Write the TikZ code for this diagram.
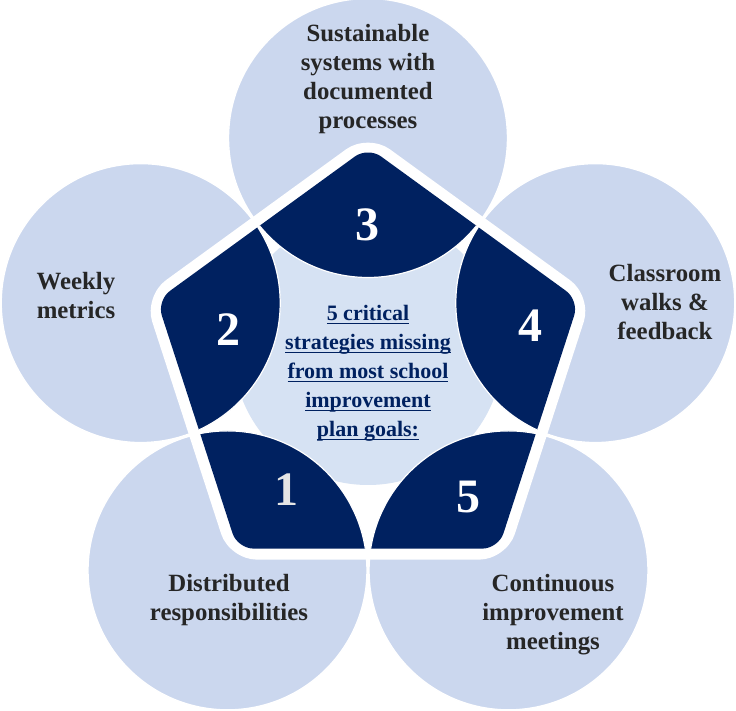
\documentclass[tikz,border=0pt]{standalone}
\usepackage{fontspec}
\setmainfont{Liberation Serif}
\definecolor{ringblue}{RGB}{203,215,238}
\definecolor{hubblue}{RGB}{214,226,243}
\definecolor{navy}{RGB}{0,33,96}
\definecolor{labelgray}{RGB}{38,38,38}
\newcommand\hubline[1]{\underline{\smash{#1}}}
\tikzset{
  lbl/.style={align=center, text=labelgray, font=\fontsize{12.4}{14.5}\selectfont\bfseries},
  num/.style={text=white, font=\fontsize{24}{24}\selectfont\bfseries},
  hub/.style={align=center, text=navy, font=\fontsize{11}{14.5}\selectfont\bfseries}
}
\begin{document}
\begin{tikzpicture}[x=0.5pt,y=-0.5pt]
  \useasboundingbox (0,0) rectangle (736,711);
  % circle centres round the pentagon
  \coordinate (c3) at (368,138);
  \coordinate (c2) at (140.7,303.1);
  \coordinate (c4) at (595.3,303.1);
  \coordinate (c1) at (227.5,570.4);
  \coordinate (c5) at (508.5,570.4);
  % outer circles
  \foreach \c in {c3,c2,c4,c1,c5}
    \filldraw[fill=ringblue, draw=white, line width=0.7pt] (\c) circle[radius=139.5];
  % white pentagon frame
  \fill[white, rounded corners=13.5pt] (368,133.4) -- (592.1,296.2) -- (506.5,559.6)
    -- (229.5,559.6) -- (143.9,296.2) -- cycle;
  \begin{scope}
    \clip[rounded corners=8pt] (368,147) -- (579.1,300.4) -- (498.5,548.6)
      -- (237.5,548.6) -- (156.9,300.4) -- cycle;
    \fill[hubblue] (368,350) circle[radius=135];
    \foreach \c in {c3,c2,c4,c1,c5}
      \filldraw[fill=navy, draw=white, line width=0.6pt] (\c) circle[radius=139.5];
  \end{scope}
  % numbers
  \node[num] (n3) at (368,225) {3};
  \node[num] (n2) at (228,330) {2};
  \node[num] (n4) at (530,326) {4};
  \node[num, text=gray!20] (n1) at (287,490) {1};
  \node[num] (n5) at (469,497) {5};
  % labels
  \node[lbl] (l3) at (368,79) {Sustainable\\systems with\\documented\\processes};
  \node[lbl] (l2) at (76,296) {Weekly\\metrics};
  \node[lbl] (l4) at (665,302) {Classroom\\walks \&\\feedback};
  \node[lbl] (l1) at (229,600) {Distributed\\responsibilities};
  \node[lbl] (l5) at (553,615) {Continuous\\improvement\\meetings};
  \node[hub] (hub) at (368,381) {\hubline{5 critical}\\\hubline{strategies missing}\\
    \hubline{from most school}\\\hubline{improvement}\\\hubline{plan goals:}};
\end{tikzpicture}
\end{document}
